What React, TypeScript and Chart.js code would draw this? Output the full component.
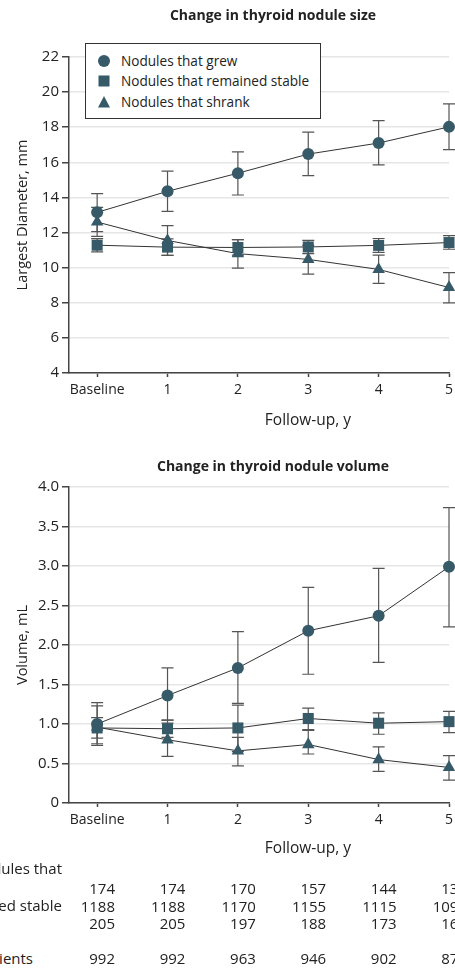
import React, { useEffect, useRef } from "react";
import { Chart, registerables } from "chart.js";

Chart.register(...registerables);

// ---------- data ----------
const xPositions = [0, 1, 2, 3, 4, 5];
const xTickLabels = ["Baseline", "1", "2", "3", "4", "5"];
const seriesNames = ["Nodules that grew", "Nodules that remained stable", "Nodules that shrank"];

const sizeTicks = [4, 6, 8, 10, 12, 14, 16, 18, 20, 22];
const sizeGrew = [13.15, 14.35, 15.38, 16.47, 17.1, 18.02];
const sizeGrewLow = [12.05, 13.21, 14.14, 15.24, 15.85, 16.72];
const sizeGrewHigh = [14.22, 15.5, 16.6, 17.72, 18.38, 19.33];
const sizeStable = [11.28, 11.17, 11.15, 11.18, 11.27, 11.43];
const sizeStableLow = [10.9, 10.7, 10.72, 10.8, 10.87, 11.05];
const sizeStableHigh = [11.65, 11.64, 11.6, 11.55, 11.66, 11.82];
const sizeShrank = [12.6, 11.55, 10.8, 10.47, 9.9, 8.87];
const sizeShrankLow = [11.78, 10.7, 9.97, 9.63, 9.1, 8.0];
const sizeShrankHigh = [13.43, 12.4, 11.6, 11.27, 10.72, 9.72];

const volTicks = [0, 0.5, 1, 1.5, 2, 2.5, 3, 3.5, 4];
const volGrew = [1.0, 1.36, 1.71, 2.18, 2.37, 2.99];
const volGrewLow = [0.73, 1.05, 1.26, 1.63, 1.78, 2.23];
const volGrewHigh = [1.27, 1.71, 2.17, 2.73, 2.97, 3.74];
const volStable = [0.95, 0.94, 0.95, 1.07, 1.01, 1.03];
const volStableLow = [0.82, 0.83, 0.65, 0.93, 0.87, 0.89];
const volStableHigh = [1.08, 1.05, 1.24, 1.2, 1.14, 1.16];
const volShrank = [0.96, 0.8, 0.66, 0.74, 0.55, 0.45];
const volShrankLow = [0.75, 0.59, 0.47, 0.62, 0.4, 0.29];
const volShrankHigh = [1.23, 1.01, 0.83, 0.92, 0.71, 0.6];

const tableHeader = "No. of nodules that";
const tableRowLabels = ["Grew", "Remained stable", "Shrank"];
const tableGrew = [174, 174, 170, 157, 144, 135];
const tableStable = [1188, 1188, 1170, 1155, 1115, 1092];
const tableShrank = [205, 205, 197, 188, 173, 162];
const patientsLabel = "No. of patients";
const tablePatients = [992, 992, 963, 946, 902, 873];

// ---------- style ----------
const FONT = "'Open Sans', 'Noto Sans', sans-serif";
const MARK = "#375a69";
const LINE = "#333333";
const ERR = "#555555";
const AXIS = "#444444";
const GRID = "#e6e6e6";
const TEXT = "#222222";
const CAP = 6;

const errorBarPlugin = {
  id: "errorBars",
  beforeDatasetsDraw(chart: any) {
    const { ctx } = chart;
    const xs = chart.scales.x;
    const ys = chart.scales.y;
    ctx.save();
    ctx.strokeStyle = ERR;
    ctx.lineWidth = 1.2;
    chart.data.datasets.forEach((ds: any) => {
      ds.data.forEach((pt: any, i: number) => {
        const x = xs.getPixelForValue(pt.x);
        const yl = ys.getPixelForValue(ds.errLow[i]);
        const yh = ys.getPixelForValue(ds.errHigh[i]);
        ctx.beginPath();
        ctx.moveTo(x, yl);
        ctx.lineTo(x, yh);
        ctx.moveTo(x - CAP, yl);
        ctx.lineTo(x + CAP, yl);
        ctx.moveTo(x - CAP, yh);
        ctx.lineTo(x + CAP, yh);
        ctx.stroke();
      });
    });
    ctx.restore();
  },
};

function mkDataset(label: string, vals: number[], lo: number[], hi: number[], style: string, radius: number) {
  return {
    label,
    data: xPositions.map((x, i) => ({ x, y: vals[i] })),
    errLow: lo,
    errHigh: hi,
    borderColor: LINE,
    borderWidth: 1,
    pointStyle: style,
    pointRadius: radius,
    pointBackgroundColor: MARK,
    pointBorderColor: MARK,
    pointBorderWidth: 0,
    clip: false,
    tension: 0,
  };
}

function mkConfig(
  datasets: any[],
  yMin: number,
  yMax: number,
  yTicks: number[],
  yFmt: (v: number) => string,
  yTitle: string,
  padTop: number,
  xHeight: number
): any {
  return {
    type: "line",
    data: { datasets },
    plugins: [errorBarPlugin],
    options: {
      animation: false,
      responsive: false,
      devicePixelRatio: 1,
      layout: { padding: { top: padTop, right: 41, left: 0, bottom: 0 } },
      plugins: { legend: { display: false }, tooltip: { enabled: false }, title: { display: false } },
      scales: {
        x: {
          type: "linear",
          min: -0.4,
          max: 5,
          afterBuildTicks: (s: any) => {
            s.ticks = xPositions.map((v) => ({ value: v }));
          },
          afterFit: (s: any) => {
            s.height = xHeight;
          },
          ticks: {
            callback: (v: number) => {
              const i = xPositions.indexOf(v);
              return i >= 0 ? xTickLabels[i] : "";
            },
            autoSkip: false,
            maxRotation: 0,
            padding: 5,
            color: TEXT,
            font: { family: FONT, size: 14 },
          },
          grid: { display: true, drawOnChartArea: false, drawTicks: true, tickLength: 4, tickColor: AXIS, tickWidth: 1.5 },
          border: { display: true, color: AXIS, width: 1.5 },
        },
        y: {
          type: "linear",
          min: yMin,
          max: yMax,
          afterBuildTicks: (s: any) => {
            s.ticks = yTicks.map((v) => ({ value: v }));
          },
          afterFit: (s: any) => {
            s.width = 69;
          },
          ticks: {
            callback: (v: number) => yFmt(v),
            padding: 3,
            color: TEXT,
            font: { family: FONT, size: 15 },
          },
          grid: { color: GRID, lineWidth: 1.5, tickColor: AXIS, tickLength: 7, tickWidth: 1.5 },
          border: { display: true, color: AXIS, width: 1.5 },
          title: {
            display: true,
            text: yTitle,
            color: TEXT,
            font: { family: FONT, size: 14.5 },
            padding: { top: 14, bottom: 0 },
          },
        },
      },
    },
  };
}

const COL0 = 97; // pixel of x=0 tick (layout)
const COLSTEP = 70.4;

function Symbol({ kind }: { kind: string }) {
  return (
    <svg width={14} height={14} style={{ position: "absolute", left: -7, top: -7 }}>
      {kind === "circle" && <circle cx={7} cy={7} r={6} fill={MARK} />}
      {kind === "rect" && <rect x={1.5} y={1.5} width={11} height={11} fill={MARK} />}
      {kind === "triangle" && <polygon points="7,1 13,12.5 1,12.5" fill={MARK} />}
    </svg>
  );
}

export default function App() {
  const c1 = useRef<HTMLCanvasElement>(null);
  const c2 = useRef<HTMLCanvasElement>(null);

  useEffect(() => {
    const ch1 = new Chart(
      c1.current as HTMLCanvasElement,
      mkConfig(
        [
          mkDataset(seriesNames[0], sizeGrew, sizeGrewLow, sizeGrewHigh, "circle", 6),
          mkDataset(seriesNames[1], sizeStable, sizeStableLow, sizeStableHigh, "rect", 7.8),
          mkDataset(seriesNames[2], sizeShrank, sizeShrankLow, sizeShrankHigh, "triangle", 7.2),
        ],
        4,
        22,
        sizeTicks,
        (v) => String(v),
        "Largest Diameter, mm",
        57,
        67
      )
    );
    const ch2 = new Chart(
      c2.current as HTMLCanvasElement,
      mkConfig(
        [
          mkDataset(seriesNames[0], volGrew, volGrewLow, volGrewHigh, "circle", 6),
          mkDataset(seriesNames[1], volStable, volStableLow, volStableHigh, "rect", 7.8),
          mkDataset(seriesNames[2], volShrank, volShrankLow, volShrankHigh, "triangle", 7.2),
        ],
        0,
        4,
        volTicks,
        (v) => (v === 0 ? "0" : v.toFixed(1)),
        "Volume, mL",
        47,
        57
      )
    );
    return () => {
      ch1.destroy();
      ch2.destroy();
    };
  }, []);

  const textBase: React.CSSProperties = {
    position: "absolute",
    fontFamily: FONT,
    color: TEXT,
    whiteSpace: "nowrap",
    lineHeight: "18px",
  };

  const numRow = (vals: number[], y: number) =>
    vals.map((v, i) => (
      <div
        key={i}
        style={{ ...textBase, fontSize: 15, top: y - 9, left: COL0 + COLSTEP * i + 18 - 60, width: 60, textAlign: "right" }}
      >
        {v}
      </div>
    ));

  const legendRows = [
    { kind: "circle", y: 18 },
    { kind: "rect", y: 38 },
    { kind: "triangle", y: 59 },
  ];

  return (
    <div
      style={{
        position: "fixed",
        left: 0,
        top: 0,
        width: 455,
        height: 968,
        overflow: "hidden",
        background: "#fff",
        fontFamily: FONT,
      }}
    >
      <canvas ref={c1} width={490} height={440} style={{ position: "absolute", left: 0, top: 0, width: 490, height: 440 }} />
      <canvas ref={c2} width={490} height={420} style={{ position: "absolute", left: 0, top: 440, width: 490, height: 420 }} />

      {/* titles */}
      <div style={{ ...textBase, fontSize: 14, fontWeight: 700, top: 6, left: 153, width: 240, textAlign: "center" }}>
        Change in thyroid nodule size
      </div>
      <div style={{ ...textBase, fontSize: 14, fontWeight: 700, top: 457, left: 153, width: 240, textAlign: "center" }}>
        Change in thyroid nodule volume
      </div>
      <div style={{ ...textBase, fontSize: 15.5, top: 410, left: 248, width: 120, textAlign: "center" }}>Follow-up, y</div>
      <div style={{ ...textBase, fontSize: 15.5, top: 838, left: 248, width: 120, textAlign: "center" }}>Follow-up, y</div>

      {/* legend */}
      <div
        style={{
          position: "absolute",
          left: 85,
          top: 43,
          width: 236,
          height: 76,
          boxSizing: "border-box",
          border: "1.2px solid #333",
          background: "#fff",
        }}
      >
        {legendRows.map((r, i) => (
          <React.Fragment key={i}>
            <div style={{ position: "absolute", left: 18, top: r.y - 1 }}>
              <Symbol kind={r.kind} />
            </div>
            <div style={{ ...textBase, fontSize: 13.6, left: 35, top: r.y - 10 }}>{seriesNames[i]}</div>
          </React.Fragment>
        ))}
      </div>

      {/* table */}
      <div style={{ ...textBase, fontSize: 15, top: 859, right: 455 - 62 }}>{tableHeader}</div>
      <div style={{ ...textBase, fontSize: 15, top: 879, right: 455 - 62, lineHeight: "17.5px" }}>
        {tableRowLabels.map((l, i) => (
          <div key={i}>{l}</div>
        ))}
      </div>
      {numRow(tableGrew, 888)}
      {numRow(tableStable, 906)}
      {numRow(tableShrank, 923)}
      <div style={{ ...textBase, fontSize: 15, top: 949, right: 455 - 33 }}>{patientsLabel}</div>
      {numRow(tablePatients, 958)}
    </div>
  );
}
